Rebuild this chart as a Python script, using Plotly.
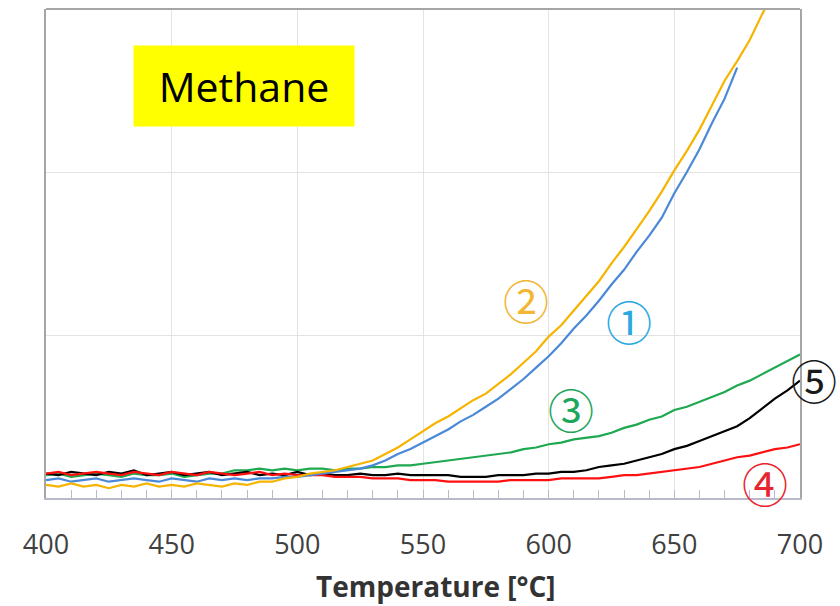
import plotly.graph_objects as go

# Temperature grid [°C]
temps = list(range(400, 701, 5))

# Methane signal (arbitrary units) for five samples
s1_blue = [0.11, 0.12, 0.10, 0.11, 0.12, 0.10, 0.11, 0.12, 0.11, 0.10,
           0.12, 0.11, 0.10, 0.12, 0.11, 0.12, 0.11, 0.12, 0.12, 0.13,
           0.13, 0.14, 0.15, 0.16, 0.17, 0.18, 0.20, 0.23, 0.27, 0.30,
           0.34, 0.38, 0.42, 0.47, 0.51, 0.56, 0.61, 0.67, 0.73, 0.80,
           0.87, 0.95, 1.04, 1.12, 1.21, 1.31, 1.40, 1.51, 1.61, 1.72,
           1.87, 2.00, 2.14, 2.30, 2.45, 2.64, None, None, None, None, None]
s2_yellow = [0.08, 0.07, 0.09, 0.07, 0.08, 0.06, 0.08, 0.07, 0.09, 0.07,
             0.08, 0.07, 0.09, 0.08, 0.07, 0.09, 0.08, 0.10, 0.10, 0.12,
             0.13, 0.15, 0.16, 0.17, 0.19, 0.21, 0.23, 0.27, 0.31, 0.36,
             0.41, 0.46, 0.50, 0.55, 0.60, 0.64, 0.70, 0.76, 0.83, 0.90,
             0.99, 1.06, 1.15, 1.24, 1.33, 1.44, 1.54, 1.65, 1.76, 1.88,
             2.01, 2.13, 2.26, 2.41, 2.56, 2.68, 2.81, 2.97, 3.12, None, None]
s3_green = [0.14, 0.15, 0.13, 0.14, 0.15, 0.14, 0.13, 0.15, 0.14, 0.14,
            0.15, 0.13, 0.14, 0.15, 0.15, 0.17, 0.17, 0.18, 0.17, 0.18,
            0.17, 0.18, 0.18, 0.17, 0.18, 0.18, 0.19, 0.19, 0.20, 0.20,
            0.21, 0.22, 0.23, 0.24, 0.25, 0.26, 0.27, 0.28, 0.30, 0.31,
            0.33, 0.34, 0.36, 0.37, 0.38, 0.40, 0.43, 0.45, 0.48, 0.50,
            0.54, 0.56, 0.59, 0.62, 0.65, 0.69, 0.72, 0.76, 0.80, 0.84, 0.88]
s4_red = [0.15, 0.16, 0.14, 0.15, 0.16, 0.15, 0.14, 0.16, 0.15, 0.14,
          0.16, 0.15, 0.14, 0.16, 0.15, 0.14, 0.15, 0.16, 0.14, 0.15,
          0.14, 0.14, 0.14, 0.13, 0.13, 0.13, 0.12, 0.12, 0.12, 0.11,
          0.11, 0.11, 0.10, 0.10, 0.10, 0.10, 0.10, 0.11, 0.11, 0.11,
          0.11, 0.12, 0.12, 0.12, 0.12, 0.13, 0.14, 0.14, 0.15, 0.16,
          0.17, 0.18, 0.19, 0.21, 0.23, 0.25, 0.26, 0.28, 0.30, 0.31, 0.33]
s5_black = [0.15, 0.14, 0.16, 0.15, 0.14, 0.16, 0.15, 0.17, 0.14, 0.15,
            0.16, 0.14, 0.15, 0.16, 0.14, 0.15, 0.16, 0.14, 0.15, 0.14,
            0.16, 0.14, 0.15, 0.14, 0.14, 0.15, 0.14, 0.14, 0.15, 0.14,
            0.14, 0.14, 0.14, 0.13, 0.13, 0.13, 0.14, 0.14, 0.14, 0.15,
            0.15, 0.16, 0.16, 0.17, 0.19, 0.20, 0.21, 0.23, 0.25, 0.27,
            0.30, 0.32, 0.35, 0.38, 0.41, 0.44, 0.49, 0.55, 0.61, 0.66, 0.72]

# Curve labels: (text, x [°C], y, colour)
labels = [("②", 591, 1.22, "#F2B632"),
          ("①", 632, 1.09, "#2AA8DF"),
          ("③", 609, 0.55, "#20A65A"),
          ("⑤", 705.5, 0.73, "#1A1A1A"),
          ("④", 686, 0.10, "#E8252E")]

series = [(s3_green, "#1EA850"), (s5_black, "#000000"), (s4_red, "#FF1010"),
          (s1_blue, "#4A88D8"), (s2_yellow, "#F6B400")]

X0, X1 = 400, 700

fig = go.Figure()
for ys, col in series:
    fig.add_trace(go.Scatter(x=temps, y=ys, mode="lines",
                             line=dict(color=col, width=2.2),
                             showlegend=False, hoverinfo="skip"))

for txt, x, y, col in labels:
    font = dict(family="Noto Sans CJK JP", size=46, color=col)
    # labels past the right end of the axis use paper x so they stay visible
    if x > X1:
        fig.add_annotation(xref="paper", x=(x - X0) / (X1 - X0), y=y, text=txt,
                           showarrow=False, xanchor="center", yanchor="middle",
                           font=font)
    else:
        fig.add_annotation(x=x, y=y, text=txt, showarrow=False,
                           xanchor="center", yanchor="middle", font=font)

fig.add_annotation(xref="paper", yref="paper", x=0.2626, y=0.8425,
                   text="Methane", showarrow=False, width=218, height=78,
                   bgcolor="#FFFF00", xanchor="center", yanchor="middle",
                   font=dict(family="Open Sans", size=41, color="#000000"))

# axis title
fig.add_annotation(xref="paper", yref="paper", x=0.517, y=-0.180,
                   text="<b>Temperature [°C]</b>", showarrow=False,
                   xanchor="center", yanchor="middle",
                   font=dict(family="Open Sans", size=28, color="#333333"))

# top border of the plotting frame
fig.add_shape(type="line", xref="paper", yref="paper", x0=0, x1=1, y0=1, y1=1,
              line=dict(color="#A6A6A6", width=2))

fig.update_layout(
    width=840, height=606,
    margin=dict(l=46, r=40, t=9, b=108),
    paper_bgcolor="white", plot_bgcolor="white",
    xaxis=dict(range=[X0, X1], dtick=50, tick0=400,
               showgrid=True, gridcolor="#E3E3E3", gridwidth=1,
               showline=True, linecolor="#B9B9CC", linewidth=2,
               ticks="inside", ticklen=8, tickcolor="#B9B9CC", tickwidth=1,
               minor=dict(dtick=10, ticks="inside", ticklen=8,
                          tickcolor="#B9B9CC", showgrid=False),
               ticklabelstandoff=22,
               tickfont=dict(family="Open Sans", size=27, color="#404040"),
               zeroline=False),
    yaxis=dict(range=[0, 3], dtick=1, showticklabels=False,
               showgrid=True, gridcolor="#E3E3E3", gridwidth=1,
               showline=True, linecolor="#A6A6A6", linewidth=2, mirror=True,
               zeroline=False, ticks=""),
)

fig.write_html("out.html")
